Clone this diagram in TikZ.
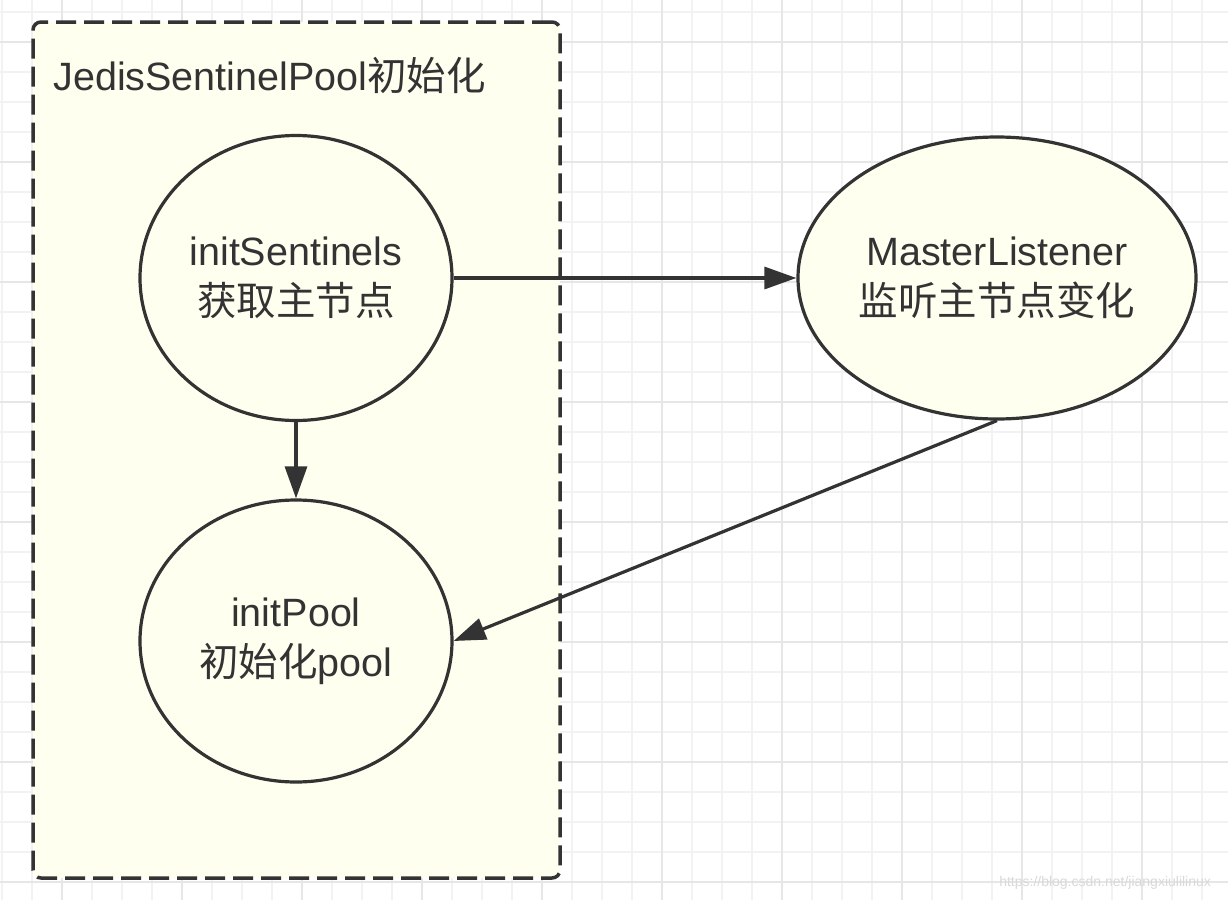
\documentclass[tikz,border=0pt]{standalone}
\usepackage{fontspec}
\setmainfont{Liberation Sans}
\newfontfamily\cjk{Noto Sans CJK SC}
\usetikzlibrary{arrows.meta, shapes.geometric}
\definecolor{ink}{HTML}{333333}
\definecolor{paleyellow}{HTML}{FEFFEF}
\definecolor{gridminor}{HTML}{F2F2F2}
\definecolor{gridmajor}{HTML}{E6E6E6}

\begin{document}
\begin{tikzpicture}[x=0.5pt, y=-0.5pt,
  container/.style = {draw=ink, fill=paleyellow, line width=1.75pt, dash pattern=on 10pt off 4pt, rounded corners=4pt, inner sep=0pt},
  state/.style = {draw=ink, fill=paleyellow, ellipse, line width=1.6pt, inner sep=0pt, align=center, text=ink, font=\fontsize{19.75}{25}\selectfont},
  flow/.style = {draw=ink, line width=1.6pt, -{Triangle[length=16pt, width=11pt]}}]
\useasboundingbox (0,0) rectangle (1228,900);
\fill[white] (0,0) rectangle (1228,900);
\foreach \x in {2,32,...,1222} \draw[gridminor, line width=1pt] (\x,0) -- (\x,900);
\foreach \y in {12,42,...,900} \draw[gridminor, line width=1pt] (0,\y) -- (1228,\y);
\foreach \x in {62,182,...,1222} \draw[gridmajor, line width=1pt] (\x,0) -- (\x,900);
\foreach \y in {42,162,...,900} \draw[gridmajor, line width=1pt] (0,\y) -- (1228,\y);

\node[container, minimum width=263.5pt, minimum height=428pt] (jedispool) at (296.5,450) {};
\node[anchor=base west, inner sep=0pt, text=ink, font=\fontsize{19.75}{25}\selectfont] (title) at (53,90) {JedisSentinelPool{\cjk 初始化}};

\node[state, minimum width=156pt, minimum height=142.5pt] (sentinels) at (296,278) {initSentinels\\{\cjk 获取主节点}};
\node[state, minimum width=156pt, minimum height=141pt] (initpool) at (296,641) {initPool\\{\cjk 初始化}pool};
\node[state, minimum width=199pt, minimum height=141pt] (listener) at (997,278) {MasterListener\\{\cjk 监听主节点变化}};

\draw[flow] (sentinels) -- (listener);
\draw[flow] (sentinels) -- (initpool);
\draw[flow] (listener.south) -- (initpool.east);

\node[anchor=base east, text=gray!30, font=\fontsize{7}{8}\selectfont] (mark) at (1218,886) {https://blog.csdn.net/jiangxiulilinux};
\end{tikzpicture}
\end{document}
